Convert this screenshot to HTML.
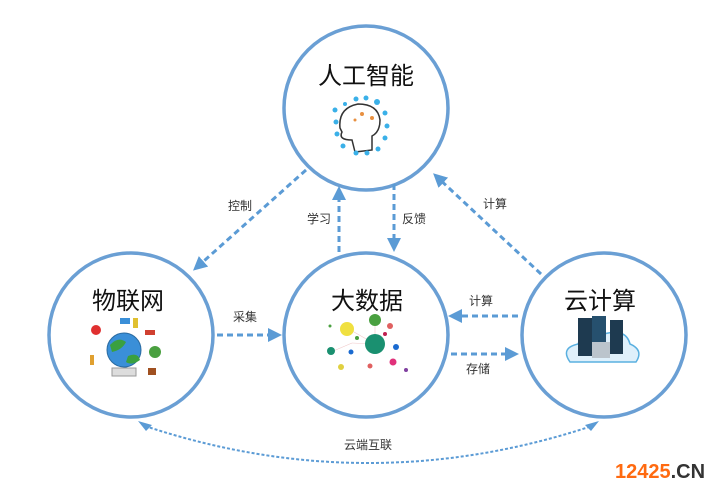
<!DOCTYPE html>
<html><head><meta charset="utf-8"><style>
html,body{margin:0;padding:0;background:#fff;}
svg{display:block;}
text{font-family:"Liberation Sans","Noto Sans CJK SC",sans-serif;}
</style></head><body>
<svg width="720" height="492" viewBox="0 0 720 492" xmlns="http://www.w3.org/2000/svg">
<defs>
<marker id="ah" markerWidth="10" markerHeight="10" refX="7" refY="5" orient="auto" markerUnits="userSpaceOnUse">
<path d="M0,0 L10,5 L0,10 Z" fill="#5b9bd5"/></marker>
<marker id="ah2" markerWidth="14" markerHeight="14" refX="10" refY="7" orient="auto" markerUnits="userSpaceOnUse">
<path d="M0,0 L14,7 L0,14 Z" fill="#5b9bd5"/></marker>
</defs>
<g fill="none" stroke="#6a9fd4" stroke-width="3.5">
<circle cx="366" cy="108" r="82"/>
<circle cx="131" cy="335" r="82"/>
<circle cx="366" cy="335" r="82"/>
<circle cx="604" cy="335" r="82"/>
</g>
<g fill="none" stroke="#5b9bd5" stroke-width="3" stroke-dasharray="6 4">
<line x1="306" y1="170" x2="196" y2="268" marker-end="url(#ah2)"/>
<line x1="339" y1="252" x2="339" y2="190" marker-end="url(#ah2)"/>
<line x1="394" y1="184" x2="394" y2="248" marker-end="url(#ah2)"/>
<line x1="541" y1="274" x2="436" y2="176" marker-end="url(#ah2)"/>
<line x1="217" y1="335" x2="278" y2="335" marker-end="url(#ah2)"/>
<line x1="518" y1="316" x2="452" y2="316" marker-end="url(#ah2)"/>
<line x1="451" y1="354" x2="515" y2="354" marker-end="url(#ah2)"/>
</g>
<path d="M145,426 Q368,500 592,426" fill="none" stroke="#5b9bd5" stroke-width="2" stroke-dasharray="3 2"/>
<path d="M138,421 L152,425 L146,431 Z" fill="#5b9bd5"/>
<path d="M599,421 L585,425 L591,431 Z" fill="#5b9bd5"/>
<g font-size="24" fill="#111" text-anchor="middle">
<text x="366" y="84">人工智能</text>
<text x="128" y="309">物联网</text>
<text x="367" y="309">大数据</text>
<text x="600" y="309">云计算</text>
</g>
<g font-size="12" fill="#333" text-anchor="middle">
<text x="240" y="210">控制</text>
<text x="319" y="223">学习</text>
<text x="414" y="223">反馈</text>
<text x="495" y="208">计算</text>
<text x="245" y="321">采集</text>
<text x="481" y="305">计算</text>
<text x="478" y="373">存储</text>
<text x="368" y="449">云端互联</text>
</g>
<!-- brain icon -->
<g>
<path d="M355,152 L352,140 Q338,140 342,132 L340,128 Q338,108 358,104 Q378,104 380,120 Q380,132 372,136 L372,150 Z" fill="#fff" stroke="#333" stroke-width="1.5"/>
<circle cx="362" cy="114" r="2" fill="#e89040"/><circle cx="372" cy="118" r="2" fill="#e89040"/><circle cx="355" cy="120" r="1.5" fill="#e89040"/>
<g fill="#3ab0e8"><circle cx="335" cy="110" r="2.5"/><circle cx="336" cy="122" r="2.5"/><circle cx="337" cy="134" r="2.5"/><circle cx="343" cy="146" r="2.5"/><circle cx="356" cy="153" r="2.5"/><circle cx="367" cy="153" r="2.5"/><circle cx="378" cy="149" r="2.5"/><circle cx="385" cy="138" r="2.5"/><circle cx="387" cy="126" r="2.5"/><circle cx="385" cy="113" r="2.5"/><circle cx="377" cy="102" r="3"/><circle cx="366" cy="98" r="2.5"/><circle cx="356" cy="99" r="2.5"/><circle cx="345" cy="104" r="2"/></g>
</g>
<!-- globe -->
<g>
<circle cx="124" cy="350" r="17" fill="#3a8fd8" stroke="#2a6aa0"/>
<path d="M110,345 Q118,336 126,342 Q122,350 112,352 Z" fill="#3aa040"/>
<path d="M128,356 Q138,352 140,360 Q132,366 126,362 Z" fill="#3aa040"/>
<rect x="112" y="368" width="24" height="8" fill="#ddd" stroke="#999"/>
<circle cx="96" cy="330" r="5" fill="#e03030"/><rect x="120" y="318" width="10" height="6" fill="#3a8fd8"/>
<rect x="133" y="318" width="5" height="10" fill="#e0c030"/><rect x="145" y="330" width="10" height="5" fill="#d04030"/>
<circle cx="155" cy="352" r="6" fill="#4aa040"/><rect x="148" y="368" width="8" height="7" fill="#a05020"/>
<rect x="90" y="355" width="4" height="10" fill="#e0a030"/>
</g>
<!-- data network -->
<g>
<g stroke="#f0c8c8" stroke-width="0.6"><line x1="352" y1="343" x2="375" y2="344"/><line x1="347" y1="328" x2="375" y2="344"/><line x1="375" y1="320" x2="375" y2="344"/><line x1="331" y1="352" x2="352" y2="343"/></g>
<circle cx="375" cy="320" r="6" fill="#4aa040"/><circle cx="347" cy="329" r="7" fill="#f0e040"/>
<circle cx="375" cy="344" r="10" fill="#1a9070"/><circle cx="331" cy="351" r="4" fill="#1a9070"/>
<circle cx="351" cy="352" r="2.5" fill="#1a6ad0"/><circle cx="390" cy="326" r="3" fill="#e06060"/>
<circle cx="396" cy="347" r="3" fill="#1a6ad0"/><circle cx="393" cy="362" r="3.5" fill="#e0307a"/>
<circle cx="385" cy="334" r="2" fill="#c02050"/><circle cx="341" cy="367" r="3" fill="#e0d040"/>
<circle cx="357" cy="338" r="2" fill="#4aa040"/><circle cx="406" cy="370" r="2" fill="#8040a0"/>
<circle cx="370" cy="366" r="2.5" fill="#e06060"/><circle cx="330" cy="326" r="1.5" fill="#4aa040"/>
</g>
<!-- cloud servers -->
<g>
<path d="M570,362 Q560,348 578,344 Q584,328 604,334 Q626,328 630,344 Q644,350 636,362 Z" fill="#dff0fb" stroke="#5ab0e0" stroke-width="1.5"/>
<rect x="578" y="318" width="14" height="38" fill="#1e3a50"/><rect x="592" y="316" width="14" height="38" fill="#26506e"/><rect x="610" y="320" width="13" height="34" fill="#1e3a50"/>
<rect x="592" y="342" width="18" height="16" fill="#bbc4cc"/>
</g>
<text x="615" y="478" font-size="20" font-weight="bold" fill="#ff6a10">12425<tspan fill="#333">.CN</tspan></text>
</svg>
</body></html>
